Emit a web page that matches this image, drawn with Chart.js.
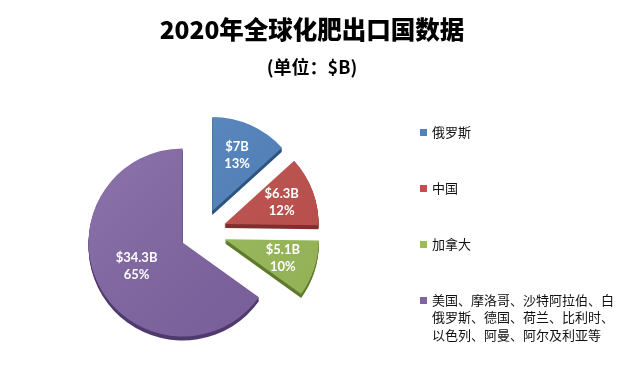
<!DOCTYPE html>
<html><head><meta charset="utf-8">
<script src="https://cdn.jsdelivr.net/npm/chart.js@4.4.1/dist/chart.umd.min.js"></script>
<style>html,body{margin:0;padding:0;background:#fff;}#wrap{position:relative;width:625px;height:383px;}</style>
</head><body><div id="wrap"><canvas id="c" width="625" height="383"></canvas></div>
<script>
// ---- data ----
const titleText = '2020年全球化肥出口国数据';
const subtitleText = '(单位：$B)';
const categories = ['俄罗斯', '中国', '加拿大', '美国、摩洛哥、沙特阿拉伯、白俄罗斯、德国、荷兰、比利时、以色列、阿曼、阿尔及利亚等'];
const legendLines = [['俄罗斯'], ['中国'], ['加拿大'], ['美国、摩洛哥、沙特阿拉伯、白', '俄罗斯、德国、荷兰、比利时、', '以色列、阿曼、阿尔及利亚等']];
const exportValues = [7, 6.3, 5.1, 34.3];
const valueLabels = ['$7B', '$6.3B', '$5.1B', '$34.3B'];
const percentLabels = ['13%', '12%', '10%', '65%'];
const sliceColors = ['#4F81BD', '#C0504D', '#9BBB59', '#8064A2'];
const sliceEdgeColors = ['#2E5480', '#7F2F2C', '#5E7A2C', '#4F3A6E'];

// ---- style constants ----
const EXPLODE = 23;
const DEPTH = 4;
const CJK = '"Noto Sans CJK SC", "Noto Sans", sans-serif';

const explodePlugin = {
  id: 'explode',
  afterDatasetUpdate(chart, args) {
    args.meta.data.forEach(a => {
      const mid = (a.startAngle + a.endAngle) / 2;
      a.x += Math.cos(mid) * EXPLODE;
      a.y += Math.sin(mid) * EXPLODE;
    });
  }
};

const depthPlugin = {
  id: 'depth',
  beforeDatasetsDraw(chart) {
    const ctx = chart.ctx;
    const meta = chart.getDatasetMeta(0);
    ctx.save();
    meta.data.forEach((a, i) => {
      ctx.fillStyle = sliceEdgeColors[i];
      for (let k = 1; k <= DEPTH; k++) {
        ctx.beginPath();
        ctx.moveTo(a.x, a.y + k);
        ctx.arc(a.x, a.y + k, a.outerRadius, a.startAngle, a.endAngle);
        ctx.closePath();
        ctx.fill();
      }
    });
    ctx.restore();
  },
  afterDatasetsDraw(chart) {
    const ctx = chart.ctx;
    const meta = chart.getDatasetMeta(0);
    ctx.save();
    meta.data.forEach((a) => {
      const g = ctx.createLinearGradient(a.x - a.outerRadius, a.y - a.outerRadius, a.x + a.outerRadius, a.y + a.outerRadius);
      g.addColorStop(0, 'rgba(255,255,255,0.10)');
      g.addColorStop(1, 'rgba(0,0,0,0.06)');
      ctx.fillStyle = g;
      ctx.beginPath();
      ctx.moveTo(a.x, a.y);
      ctx.arc(a.x, a.y, a.outerRadius, a.startAngle, a.endAngle);
      ctx.closePath();
      ctx.fill();
    });
    ctx.restore();
  }
};

const textPlugin = {
  id: 'texts',
  afterDraw(chart) {
    const ctx = chart.ctx;
    ctx.save();
    // title
    ctx.fillStyle = '#000';
    ctx.textAlign = 'center';
    ctx.textBaseline = 'middle';
    ctx.font = '900 24.5px ' + CJK;
    ctx.fillText(titleText, 312, 30);
    ctx.font = 'bold 18px ' + CJK;
    ctx.fillText(subtitleText, 312, 67);
    // data labels
    const meta = chart.getDatasetMeta(0);
    ctx.fillStyle = '#fff';
    ctx.font = 'bold 13px Lato, "Liberation Sans", sans-serif';
    meta.data.forEach((a, i) => {
      const mid = (a.startAngle + a.endAngle) / 2;
      const frac = (a.endAngle - a.startAngle) > Math.PI ? 0.55 : 0.65;
      const cx = a.x + Math.cos(mid) * a.outerRadius * frac;
      const cy = a.y + Math.sin(mid) * a.outerRadius * frac;
      ctx.fillText(valueLabels[i], cx, cy - 8.5);
      ctx.fillText(percentLabels[i], cx, cy + 8.5);
    });
    // legend
    ctx.textAlign = 'left';
    ctx.font = '13px ' + CJK;
    legendLines.forEach((lines, i) => {
      const y0 = 132 + i * 56;
      ctx.fillStyle = sliceColors[i];
      ctx.fillRect(420, y0 - 3, 7, 7);
      ctx.fillStyle = '#111';
      lines.forEach((t, j) => ctx.fillText(t, 432, y0 + j * 17.5));
    });
    ctx.restore();
  }
};

new Chart(document.getElementById('c'), {
  type: 'pie',
  data: {
    labels: categories,
    datasets: [{
      data: exportValues,
      backgroundColor: sliceColors,
      borderWidth: 0,
      radius: 94
    }]
  },
  options: {
    responsive: false,
    animation: false,
    layout: { padding: { left: 0, right: 219, top: 81, bottom: 0 } },
    plugins: { legend: { display: false }, tooltip: { enabled: false }, title: { display: false } }
  },
  plugins: [explodePlugin, depthPlugin, textPlugin]
});
</script>
</body></html>
